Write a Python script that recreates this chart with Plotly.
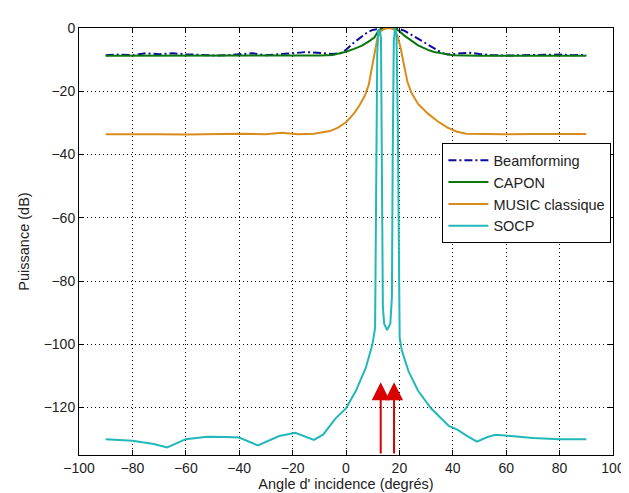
import plotly.graph_objs as go

# angles (degres) et puissances (dB)
bf_x = [-90, -85, -80, -75, -70, -65, -60, -55, -50, -45, -40, -35, -30, -25, -20, -15, -10, -5, -2, 0, 3, 6, 8, 10, 12, 14,
        16, 18, 20, 22, 24, 26, 28, 30, 32, 34, 36, 38, 42, 46, 50, 55, 60, 65, 70, 75, 80, 85, 90]
bf_y = [-8.6, -8.4, -8.6, -8.0, -8.3, -8.0, -8.3, -8.6, -8.7, -8.6, -8.2, -8.0, -8.6, -8.4, -8.0, -7.6, -7.8, -8.2, -8.0, -6.9,
        -4.6, -2.5, -1.4, -0.6, -0.2, 0.0, 0.0, 0.0, -0.3, -0.9, -1.9, -2.9, -3.8, -4.8, -5.8, -6.9, -7.9, -8.4, -8.0, -7.8,
        -8.2, -8.6, -8.7, -8.6, -8.5, -8.5, -8.4, -8.6, -8.5]

capon_x = [-90, -80, -70, -60, -50, -40, -30, -20, -10, -5, 0, 3, 6, 9, 10.6, 12.4, 14, 16, 17.5, 18.5, 20, 22, 24.5, 27,
           30.7, 33, 36.6, 40, 50, 60, 70, 80, 90]
capon_y = [-8.8, -8.8, -8.8, -8.8, -8.8, -8.8, -8.8, -8.8, -8.7, -8.5, -7.5, -6.6, -5.6, -4.0, -3.0, -0.6, -0.2, 0.0, 0.0,
           -0.3, -1.0, -2.5, -4.0, -5.5, -6.9, -7.6, -8.1, -8.6, -8.8, -8.8, -8.8, -8.8, -8.8]

music_x = [-90, -80, -70, -60, -50, -40, -30, -24, -18, -12, -6, -3, 0, 3, 5, 7, 8.5, 9.8, 10.8, 11.8, 13, 14.5, 16.5, 18,
           19.3, 20.5, 21.8, 23, 24.5, 27, 30.6, 34.3, 38, 41.6, 45, 50, 60, 70, 80, 90]
music_y = [-33.6, -33.5, -33.6, -33.7, -33.6, -33.4, -33.6, -33.1, -33.6, -33.4, -32.6, -31.5, -29.8, -27.0, -24.5, -21.5,
           -18.0, -12.0, -7.0, -3.0, -1.0, -0.2, 0.0, -0.5, -2.5, -6.5, -12.0, -17.0, -20.5, -24.0, -27.0, -29.5, -31.5,
           -32.8, -33.4, -33.5, -33.6, -33.5, -33.5, -33.5]

socp_x = [-90, -80, -72, -67, -60, -52, -45, -40, -33, -25, -19, -12, -8.5, -3.9, 0, 3.7, 7.4, 9.9, 10.9, 11.3, 11.7, 12.1,
          12.6, 13.1, 13.5, 13.8, 14.3, 15.4, 16.6, 17.2, 17.5, 17.9, 18.4, 18.9, 19.4, 19.8, 20.1, 20.9, 23.4, 27, 31.9,
          38.5, 41.7, 45, 49, 53, 56, 60.5, 70, 80, 90]
socp_y = [-130.0, -130.5, -131.5, -132.6, -130.0, -129.2, -129.3, -129.5, -132.0, -129.0, -128.0, -130.2, -128.5, -123.4,
          -120.3, -114.7, -107.5, -100.0, -94.8, -60.0, -8.0, -1.0, -0.5, -3.0, -40.0, -88.0, -93.5, -95.5, -93.5, -85.0,
          -40.0, -4.0, 0.0, -2.0, -30.0, -80.0, -98.0, -102.0, -108.5, -114.7, -120.3, -125.8, -127.0, -128.8, -130.8,
          -129.3, -128.6, -128.9, -129.6, -130.0, -130.0]

sources = [13, 18]

layout = go.Layout(width=629, height=493, paper_bgcolor='white', plot_bgcolor='white',
                   font=dict(family='Liberation Sans, Arial', size=14, color='#222222'),
                   margin=dict(l=71, r=12, t=20, b=41), showlegend=True,
                   legend=dict(x=0.997, y=0.73, xanchor='right', yanchor='top', bgcolor='white',
                               bordercolor='black', borderwidth=1, font=dict(size=14.5), tracegroupgap=0,
                               itemwidth=40))
fig = go.Figure(layout=layout)
fig.add_trace(go.Scatter(x=bf_x, y=bf_y, mode='lines', name='Beamforming',
                         line=dict(color='#0a0aa0', width=2, dash='8px,3px,2px,3px')))
fig.add_trace(go.Scatter(x=capon_x, y=capon_y, mode='lines', name='CAPON', line=dict(color='#0b760b', width=2)))
fig.add_trace(go.Scatter(x=music_x, y=music_y, mode='lines', name='MUSIC classique',
                         line=dict(color='#d98c1c', width=2)))
fig.add_trace(go.Scatter(x=socp_x, y=socp_y, mode='lines', name='SOCP', line=dict(color='#20b8b8', width=2)))

for s in sources:
    fig.add_annotation(x=s, y=-112, ax=s, ay=-135, xref='x', yref='y', axref='x', ayref='y', text='',
                       showarrow=True, arrowhead=2, arrowsize=1.8, arrowwidth=2, arrowcolor='#d80000')

axis_style = dict(showline=True, linecolor='black', linewidth=1, mirror='allticks', ticks='inside', ticklen=5,
                  tickcolor='black', showgrid=True, gridcolor='black', gridwidth=1, griddash='1px,3px',
                  zeroline=False, tickfont=dict(size=14))
fig.update_xaxes(range=[-100, 100], tickvals=list(range(-100, 101, 20)),
                 title=dict(text="Angle d' incidence (degrés)", standoff=3, font=dict(size=14.5)), **axis_style)
fig.update_yaxes(range=[-135, 0], tickvals=list(range(-120, 1, 20)),
                 title=dict(text='Puissance (dB)', standoff=10, font=dict(size=14.5)), **axis_style)

fig.write_html("out.html")
